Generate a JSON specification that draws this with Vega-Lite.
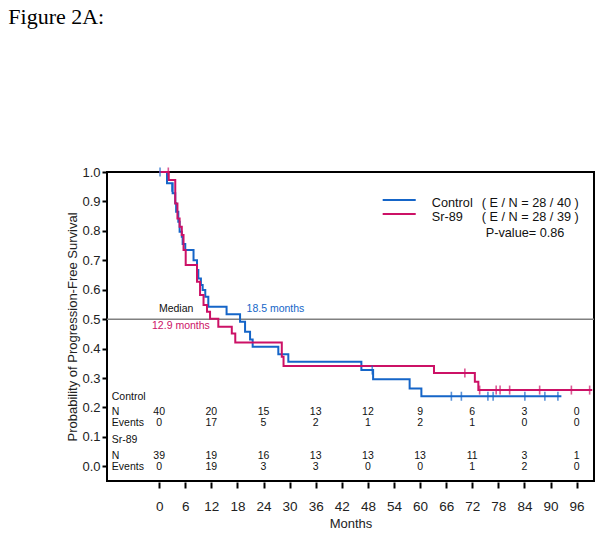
{
  "$schema": "https://vega.github.io/schema/vega-lite/v6.json",
  "width": 487,
  "height": 309,
  "autosize": {"type": "none"},
  "padding": {"left": 107, "top": 172, "right": 9, "bottom": 54},
  "background": "white",
  "config": {
    "font": "Liberation Sans",
    "view": {"stroke": "black", "strokeWidth": 2},
    "axis": {"grid": false, "domain": false, "tickColor": "black", "tickWidth": 2, "labelColor": "#222", "titleColor": "#222", "labelFont": "Liberation Sans", "titleFont": "Liberation Sans", "titleFontWeight": "normal", "labelFontSize": 13, "titleFontSize": 13, "labelOverlap": false}
  },
  "datasets": {
    "one": [{}],
    "curves": [
      {"group": "Control", "month": 0, "surv": 1.0},
      {"group": "Control", "month": 1.8, "surv": 0.962},
      {"group": "Control", "month": 3.1, "surv": 0.928},
      {"group": "Control", "month": 3.7, "surv": 0.894},
      {"group": "Control", "month": 3.9, "surv": 0.865},
      {"group": "Control", "month": 4.4, "surv": 0.831},
      {"group": "Control", "month": 4.7, "surv": 0.797},
      {"group": "Control", "month": 5.2, "surv": 0.78},
      {"group": "Control", "month": 5.4, "surv": 0.755},
      {"group": "Control", "month": 6.0, "surv": 0.735},
      {"group": "Control", "month": 7.9, "surv": 0.70},
      {"group": "Control", "month": 8.7, "surv": 0.667},
      {"group": "Control", "month": 9.0, "surv": 0.638},
      {"group": "Control", "month": 9.6, "surv": 0.616},
      {"group": "Control", "month": 10.0, "surv": 0.599},
      {"group": "Control", "month": 10.6, "surv": 0.576},
      {"group": "Control", "month": 11.3, "surv": 0.542},
      {"group": "Control", "month": 15.5, "surv": 0.517},
      {"group": "Control", "month": 18.6, "surv": 0.491},
      {"group": "Control", "month": 19.75, "surv": 0.457},
      {"group": "Control", "month": 20.9, "surv": 0.431},
      {"group": "Control", "month": 21.5, "surv": 0.406},
      {"group": "Control", "month": 27.4, "surv": 0.381},
      {"group": "Control", "month": 29.7, "surv": 0.355},
      {"group": "Control", "month": 46.5, "surv": 0.327},
      {"group": "Control", "month": 49.2, "surv": 0.296},
      {"group": "Control", "month": 57.6, "surv": 0.264},
      {"group": "Control", "month": 60.3, "surv": 0.238},
      {"group": "Control", "month": 92.5, "surv": 0.238},
      {"group": "Sr-89", "month": 0, "surv": 1.0},
      {"group": "Sr-89", "month": 2.2, "surv": 0.973},
      {"group": "Sr-89", "month": 3.7, "surv": 0.893},
      {"group": "Sr-89", "month": 4.2, "surv": 0.842},
      {"group": "Sr-89", "month": 4.7, "surv": 0.814},
      {"group": "Sr-89", "month": 5.2, "surv": 0.786},
      {"group": "Sr-89", "month": 5.6, "surv": 0.735},
      {"group": "Sr-89", "month": 6.1, "surv": 0.684},
      {"group": "Sr-89", "month": 8.7, "surv": 0.627},
      {"group": "Sr-89", "month": 9.4, "surv": 0.582},
      {"group": "Sr-89", "month": 10.2, "surv": 0.548},
      {"group": "Sr-89", "month": 11.0, "surv": 0.525},
      {"group": "Sr-89", "month": 11.7, "surv": 0.501},
      {"group": "Sr-89", "month": 13.6, "surv": 0.474},
      {"group": "Sr-89", "month": 16.7, "surv": 0.451},
      {"group": "Sr-89", "month": 17.5, "surv": 0.421},
      {"group": "Sr-89", "month": 28.2, "surv": 0.372},
      {"group": "Sr-89", "month": 28.6, "surv": 0.341},
      {"group": "Sr-89", "month": 63.2, "surv": 0.317},
      {"group": "Sr-89", "month": 72.6, "surv": 0.287},
      {"group": "Sr-89", "month": 73.4, "surv": 0.259},
      {"group": "Sr-89", "month": 99.6, "surv": 0.259}
    ],
    "censors": [
      {"group": "Control", "month": 0.2, "surv": 1.0},
      {"group": "Control", "month": 2.9, "surv": 0.948},
      {"group": "Control", "month": 49.0, "surv": 0.327},
      {"group": "Control", "month": 67.2, "surv": 0.238},
      {"group": "Control", "month": 69.5, "surv": 0.238},
      {"group": "Control", "month": 75.6, "surv": 0.238},
      {"group": "Control", "month": 76.8, "surv": 0.238},
      {"group": "Control", "month": 84.1, "surv": 0.238},
      {"group": "Control", "month": 88.7, "surv": 0.238},
      {"group": "Control", "month": 91.7, "surv": 0.238},
      {"group": "Sr-89", "month": 2.1, "surv": 1.0},
      {"group": "Sr-89", "month": 70.3, "surv": 0.317},
      {"group": "Sr-89", "month": 73.7, "surv": 0.259},
      {"group": "Sr-89", "month": 77.5, "surv": 0.259},
      {"group": "Sr-89", "month": 78.4, "surv": 0.259},
      {"group": "Sr-89", "month": 80.6, "surv": 0.259},
      {"group": "Sr-89", "month": 87.5, "surv": 0.259},
      {"group": "Sr-89", "month": 94.8, "surv": 0.259},
      {"group": "Sr-89", "month": 99.0, "surv": 0.259}
    ],
    "risk": [
      {"group": "Control", "stat": "N", "month": 0, "value": "40"},
      {"group": "Control", "stat": "N", "month": 12, "value": "20"},
      {"group": "Control", "stat": "N", "month": 24, "value": "15"},
      {"group": "Control", "stat": "N", "month": 36, "value": "13"},
      {"group": "Control", "stat": "N", "month": 48, "value": "12"},
      {"group": "Control", "stat": "N", "month": 60, "value": "9"},
      {"group": "Control", "stat": "N", "month": 72, "value": "6"},
      {"group": "Control", "stat": "N", "month": 84, "value": "3"},
      {"group": "Control", "stat": "N", "month": 96, "value": "0"},
      {"group": "Control", "stat": "Events", "month": 0, "value": "0"},
      {"group": "Control", "stat": "Events", "month": 12, "value": "17"},
      {"group": "Control", "stat": "Events", "month": 24, "value": "5"},
      {"group": "Control", "stat": "Events", "month": 36, "value": "2"},
      {"group": "Control", "stat": "Events", "month": 48, "value": "1"},
      {"group": "Control", "stat": "Events", "month": 60, "value": "2"},
      {"group": "Control", "stat": "Events", "month": 72, "value": "1"},
      {"group": "Control", "stat": "Events", "month": 84, "value": "0"},
      {"group": "Control", "stat": "Events", "month": 96, "value": "0"},
      {"group": "Sr-89", "stat": "N", "month": 0, "value": "39"},
      {"group": "Sr-89", "stat": "N", "month": 12, "value": "19"},
      {"group": "Sr-89", "stat": "N", "month": 24, "value": "16"},
      {"group": "Sr-89", "stat": "N", "month": 36, "value": "13"},
      {"group": "Sr-89", "stat": "N", "month": 48, "value": "13"},
      {"group": "Sr-89", "stat": "N", "month": 60, "value": "13"},
      {"group": "Sr-89", "stat": "N", "month": 72, "value": "11"},
      {"group": "Sr-89", "stat": "N", "month": 84, "value": "3"},
      {"group": "Sr-89", "stat": "N", "month": 96, "value": "1"},
      {"group": "Sr-89", "stat": "Events", "month": 0, "value": "0"},
      {"group": "Sr-89", "stat": "Events", "month": 12, "value": "19"},
      {"group": "Sr-89", "stat": "Events", "month": 24, "value": "3"},
      {"group": "Sr-89", "stat": "Events", "month": 36, "value": "3"},
      {"group": "Sr-89", "stat": "Events", "month": 48, "value": "0"},
      {"group": "Sr-89", "stat": "Events", "month": 60, "value": "0"},
      {"group": "Sr-89", "stat": "Events", "month": 72, "value": "1"},
      {"group": "Sr-89", "stat": "Events", "month": 84, "value": "2"},
      {"group": "Sr-89", "stat": "Events", "month": 96, "value": "0"}
    ]
  },
  "layer": [
    {
      "data": {"name": "one"},
      "mark": {"type": "rule", "color": "#808080", "strokeWidth": 1.5},
      "encoding": {
        "y": {"datum": 0.5, "type": "quantitative", "scale": {"domain": [-0.05, 1.0], "nice": false, "zero": false},
          "axis": {"values": [0, 0.1, 0.2, 0.3, 0.4, 0.5, 0.6, 0.7, 0.8, 0.9, 1.0], "tickCount": 30, "format": ".1f", "tickSize": 5, "labelPadding": 2, "labelFontSize": 13, "labelOverlap": false, "title": "Probability of Progression-Free Survival", "titleFontSize": 13, "titlePadding": 2}}
      }
    },
    {
      "data": {"name": "curves"},
      "mark": {"type": "line", "interpolate": "step-after", "strokeWidth": 2},
      "encoding": {
        "x": {"field": "month", "type": "quantitative", "scale": {"domain": [-12, 100], "nice": false, "zero": false},
          "axis": {"values": [0, 6, 12, 18, 24, 30, 36, 42, 48, 54, 60, 66, 72, 78, 84, 90, 96], "tickCount": 30, "tickSize": 6, "offset": 1, "labelPadding": 11, "labelFontSize": 13.5, "labelOverlap": false, "title": "Months", "titleFontSize": 13, "titlePadding": 5}},
        "y": {"field": "surv", "type": "quantitative"},
        "color": {"field": "group", "type": "nominal", "scale": {"domain": ["Control", "Sr-89"], "range": ["#1565c8", "#cc1166"]}, "legend": null}
      }
    },
    {
      "data": {"name": "censors"},
      "mark": {"type": "tick", "orient": "vertical", "size": 9, "thickness": 1.6},
      "encoding": {
        "x": {"field": "month", "type": "quantitative"},
        "y": {"field": "surv", "type": "quantitative"},
        "color": {"field": "group", "type": "nominal", "legend": null}
      }
    },
    {
      "data": {"name": "one"},
      "mark": {"type": "rule", "color": "#1565c8", "strokeWidth": 2},
      "encoding": {"x": {"datum": 51.4}, "x2": {"datum": 59.0}, "y": {"datum": 0.905}}
    },
    {
      "data": {"name": "one"},
      "mark": {"type": "rule", "color": "#cc1166", "strokeWidth": 2},
      "encoding": {"x": {"datum": 51.4}, "x2": {"datum": 59.0}, "y": {"datum": 0.857}}
    },
    {
      "data": {"name": "one"},
      "mark": {"type": "text", "text": "Figure 2A:", "font": "Liberation Serif", "align": "left", "baseline": "alphabetic", "fontSize": 22, "color": "black"},
      "encoding": {"x": {"datum": -34.7}, "y": {"datum": 1.503}}
    },
    {
      "data": {"name": "one"},
      "mark": {"type": "text", "text": "Control", "align": "left", "baseline": "middle", "fontSize": 12.7, "color": "#111"},
      "encoding": {"x": {"datum": 62.7}, "y": {"datum": 0.895}}
    },
    {
      "data": {"name": "one"},
      "mark": {"type": "text", "text": "( E / N = 28 / 40 )", "align": "left", "baseline": "middle", "fontSize": 12.7, "color": "#111"},
      "encoding": {"x": {"datum": 74.2}, "y": {"datum": 0.895}}
    },
    {
      "data": {"name": "one"},
      "mark": {"type": "text", "text": "Sr-89", "align": "left", "baseline": "middle", "fontSize": 12.7, "color": "#111"},
      "encoding": {"x": {"datum": 62.7}, "y": {"datum": 0.847}}
    },
    {
      "data": {"name": "one"},
      "mark": {"type": "text", "text": "( E / N = 28 / 39 )", "align": "left", "baseline": "middle", "fontSize": 12.7, "color": "#111"},
      "encoding": {"x": {"datum": 74.2}, "y": {"datum": 0.847}}
    },
    {
      "data": {"name": "one"},
      "mark": {"type": "text", "text": "P-value= 0.86", "align": "left", "baseline": "middle", "fontSize": 12.7, "color": "#111"},
      "encoding": {"x": {"datum": 75.1}, "y": {"datum": 0.793}}
    },
    {
      "data": {"name": "one"},
      "mark": {"type": "text", "text": "Median", "align": "center", "baseline": "middle", "fontSize": 10.5, "color": "#111"},
      "encoding": {"x": {"datum": 3.9}, "y": {"datum": 0.534}}
    },
    {
      "data": {"name": "one"},
      "mark": {"type": "text", "text": "18.5 months", "align": "left", "baseline": "middle", "fontSize": 10.5, "color": "#1565c8"},
      "encoding": {"x": {"datum": 20.1}, "y": {"datum": 0.534}}
    },
    {
      "data": {"name": "one"},
      "mark": {"type": "text", "text": "12.9 months", "align": "center", "baseline": "middle", "fontSize": 10.5, "color": "#cc1166"},
      "encoding": {"x": {"datum": 5.0}, "y": {"datum": 0.477}}
    },
    {
      "data": {"name": "one"},
      "mark": {"type": "text", "text": "Control", "align": "left", "baseline": "middle", "fontSize": 10.5, "color": "#111"},
      "encoding": {"x": {"datum": -10.9}, "y": {"datum": 0.236}}
    },
    {
      "data": {"name": "one"},
      "mark": {"type": "text", "text": "N", "align": "left", "baseline": "middle", "fontSize": 10.5, "color": "#111"},
      "encoding": {"x": {"datum": -10.9}, "y": {"datum": 0.185}}
    },
    {
      "data": {"name": "one"},
      "mark": {"type": "text", "text": "Events", "align": "left", "baseline": "middle", "fontSize": 10.5, "color": "#111"},
      "encoding": {"x": {"datum": -10.9}, "y": {"datum": 0.147}}
    },
    {
      "data": {"name": "one"},
      "mark": {"type": "text", "text": "Sr-89", "align": "left", "baseline": "middle", "fontSize": 10.5, "color": "#111"},
      "encoding": {"x": {"datum": -10.9}, "y": {"datum": 0.088}}
    },
    {
      "data": {"name": "one"},
      "mark": {"type": "text", "text": "N", "align": "left", "baseline": "middle", "fontSize": 10.5, "color": "#111"},
      "encoding": {"x": {"datum": -10.9}, "y": {"datum": 0.034}}
    },
    {
      "data": {"name": "one"},
      "mark": {"type": "text", "text": "Events", "align": "left", "baseline": "middle", "fontSize": 10.5, "color": "#111"},
      "encoding": {"x": {"datum": -10.9}, "y": {"datum": -0.002}}
    },
    {
      "data": {"name": "risk"},
      "transform": [{"filter": "datum.group === 'Control' && datum.stat === 'N'"}],
      "mark": {"type": "text", "align": "center", "baseline": "middle", "fontSize": 10.5, "color": "#111"},
      "encoding": {"x": {"field": "month", "type": "quantitative"}, "y": {"datum": 0.185}, "text": {"field": "value"}}
    },
    {
      "data": {"name": "risk"},
      "transform": [{"filter": "datum.group === 'Control' && datum.stat === 'Events'"}],
      "mark": {"type": "text", "align": "center", "baseline": "middle", "fontSize": 10.5, "color": "#111"},
      "encoding": {"x": {"field": "month", "type": "quantitative"}, "y": {"datum": 0.147}, "text": {"field": "value"}}
    },
    {
      "data": {"name": "risk"},
      "transform": [{"filter": "datum.group === 'Sr-89' && datum.stat === 'N'"}],
      "mark": {"type": "text", "align": "center", "baseline": "middle", "fontSize": 10.5, "color": "#111"},
      "encoding": {"x": {"field": "month", "type": "quantitative"}, "y": {"datum": 0.034}, "text": {"field": "value"}}
    },
    {
      "data": {"name": "risk"},
      "transform": [{"filter": "datum.group === 'Sr-89' && datum.stat === 'Events'"}],
      "mark": {"type": "text", "align": "center", "baseline": "middle", "fontSize": 10.5, "color": "#111"},
      "encoding": {"x": {"field": "month", "type": "quantitative"}, "y": {"datum": -0.002}, "text": {"field": "value"}}
    }
  ]
}
